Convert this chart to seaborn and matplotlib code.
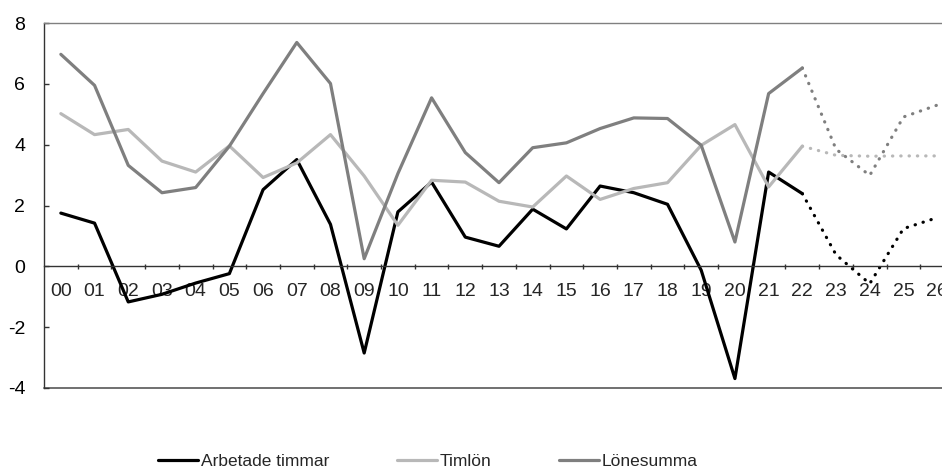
import matplotlib
matplotlib.use("Agg")
import matplotlib.pyplot as plt
import numpy as np
import pandas as pd
import seaborn as sns

# ---- data ----
years = ["00", "01", "02", "03", "04", "05", "06", "07", "08", "09",
         "10", "11", "12", "13", "14", "15", "16", "17", "18", "19",
         "20", "21", "22", "23", "24", "25", "26"]
arbetade = [1.75, 1.42, -1.17, -0.92, -0.55, -0.24, 2.52, 3.51, 1.38, -2.85,
            1.79, 2.77, 0.96, 0.66, 1.88, 1.23, 2.64, 2.42, 2.04, -0.13,
            -3.69, 3.10, 2.39, 0.38, -0.57, 1.24, 1.60]
timlon = [5.02, 4.33, 4.50, 3.46, 3.10, 3.96, 2.92, 3.40, 4.33, 2.97,
          1.35, 2.83, 2.77, 2.14, 1.95, 2.97, 2.20, 2.56, 2.75, 3.98,
          4.66, 2.61, 3.95, 3.65, 3.62, 3.63, 3.63]
lonesumma = [6.97, 5.95, 3.32, 2.42, 2.59, 3.95, 5.68, 7.36, 6.01, 0.25,
             3.05, 5.54, 3.74, 2.75, 3.90, 4.06, 4.53, 4.88, 4.86, 3.98,
             0.80, 5.68, 6.52, 3.85, 2.99, 4.91, 5.30]
series_names = ["Arbetade timmar", "Timlön", "Lönesumma"]
last_actual = "22"
y_ticks = [-4, -2, 0, 2, 4, 6, 8]

colors = {"Arbetade timmar": "#000000", "Timlön": "#b8b8b8", "Lönesumma": "#7f7f7f"}

# ---- build long table ----
rows = []
split = years.index(last_actual)
for name, vals in zip(series_names, [arbetade, timlon, lonesumma]):
    for i, (yr, v) in enumerate(zip(years, vals)):
        rows.append({"pos": i, "year": yr, "series": name, "value": v,
                     "actual": i <= split, "forecast": i >= split})
df = pd.DataFrame(rows)

sns.set_style("white")
plt.rcParams["font.family"] = ["Liberation Sans", "DejaVu Sans"]

W, H = 942, 470
fig = plt.figure(figsize=(W / 100, H / 100), dpi=100)
left, right, top, bottom = 44, 954, 23, 388
ax = fig.add_axes([left / W, 1 - bottom / H, (right - left) / W, (bottom - top) / H])

lw = 2.3
sns.lineplot(data=df[df["actual"]], x="pos", y="value", hue="series",
             hue_order=series_names, palette=colors, linewidth=lw, ax=ax,
             legend=True)
sns.lineplot(data=df[df["forecast"]], x="pos", y="value", hue="series",
             hue_order=series_names, palette=colors, linewidth=lw, ax=ax,
             legend=False, linestyle=(0, (0.1, 2.5)), dash_capstyle="round")

ax.set_xlim(-0.5, len(years) - 0.5)
ax.set_ylim(y_ticks[0], y_ticks[-1])
ax.set_xlabel("")
ax.set_ylabel("")

# y axis
ax.set_yticks(y_ticks)
ax.set_yticklabels([str(v) for v in y_ticks])
ax.tick_params(axis="y", length=3.6, width=1.0, direction="in", color="#333333",
               left=True, pad=13.5, labelsize=14, labelcolor="#000000")

# x axis at zero
ax.spines["bottom"].set_position(("data", 0))
ax.spines["bottom"].set_color("#333333")
ax.spines["bottom"].set_linewidth(1.0)
ax.set_xticks(range(len(years)))
ax.set_xticklabels(years)
ax.set_xticks(np.arange(0.5, len(years) - 1, 1.0), minor=True)
ax.tick_params(axis="x", which="major", length=0, pad=12, labelsize=14)
ax.tick_params(axis="x", which="minor", length=3.6, width=1.0, direction="inout",
               color="#333333", bottom=True)

ax.spines["left"].set_color("#333333")
ax.spines["left"].set_linewidth(1.0)
ax.spines["top"].set_visible(True)
ax.spines["top"].set_color("#808080")
ax.spines["top"].set_linewidth(1.0)
ax.spines["right"].set_visible(False)
ax.axhline(y_ticks[0], color="#707070", linewidth=1.4, clip_on=False, zorder=0.5)

# legend
handles, labels = ax.get_legend_handles_labels()
ax.get_legend().remove()
fig.legend(handles, labels, loc="center", bbox_to_anchor=(428 / W, 1 - 461 / H),
           ncol=3, frameon=False, fontsize=12.5, handlelength=2.3, handletextpad=0.2,
           columnspacing=3.85)

fig.savefig("out.png", dpi=100)
